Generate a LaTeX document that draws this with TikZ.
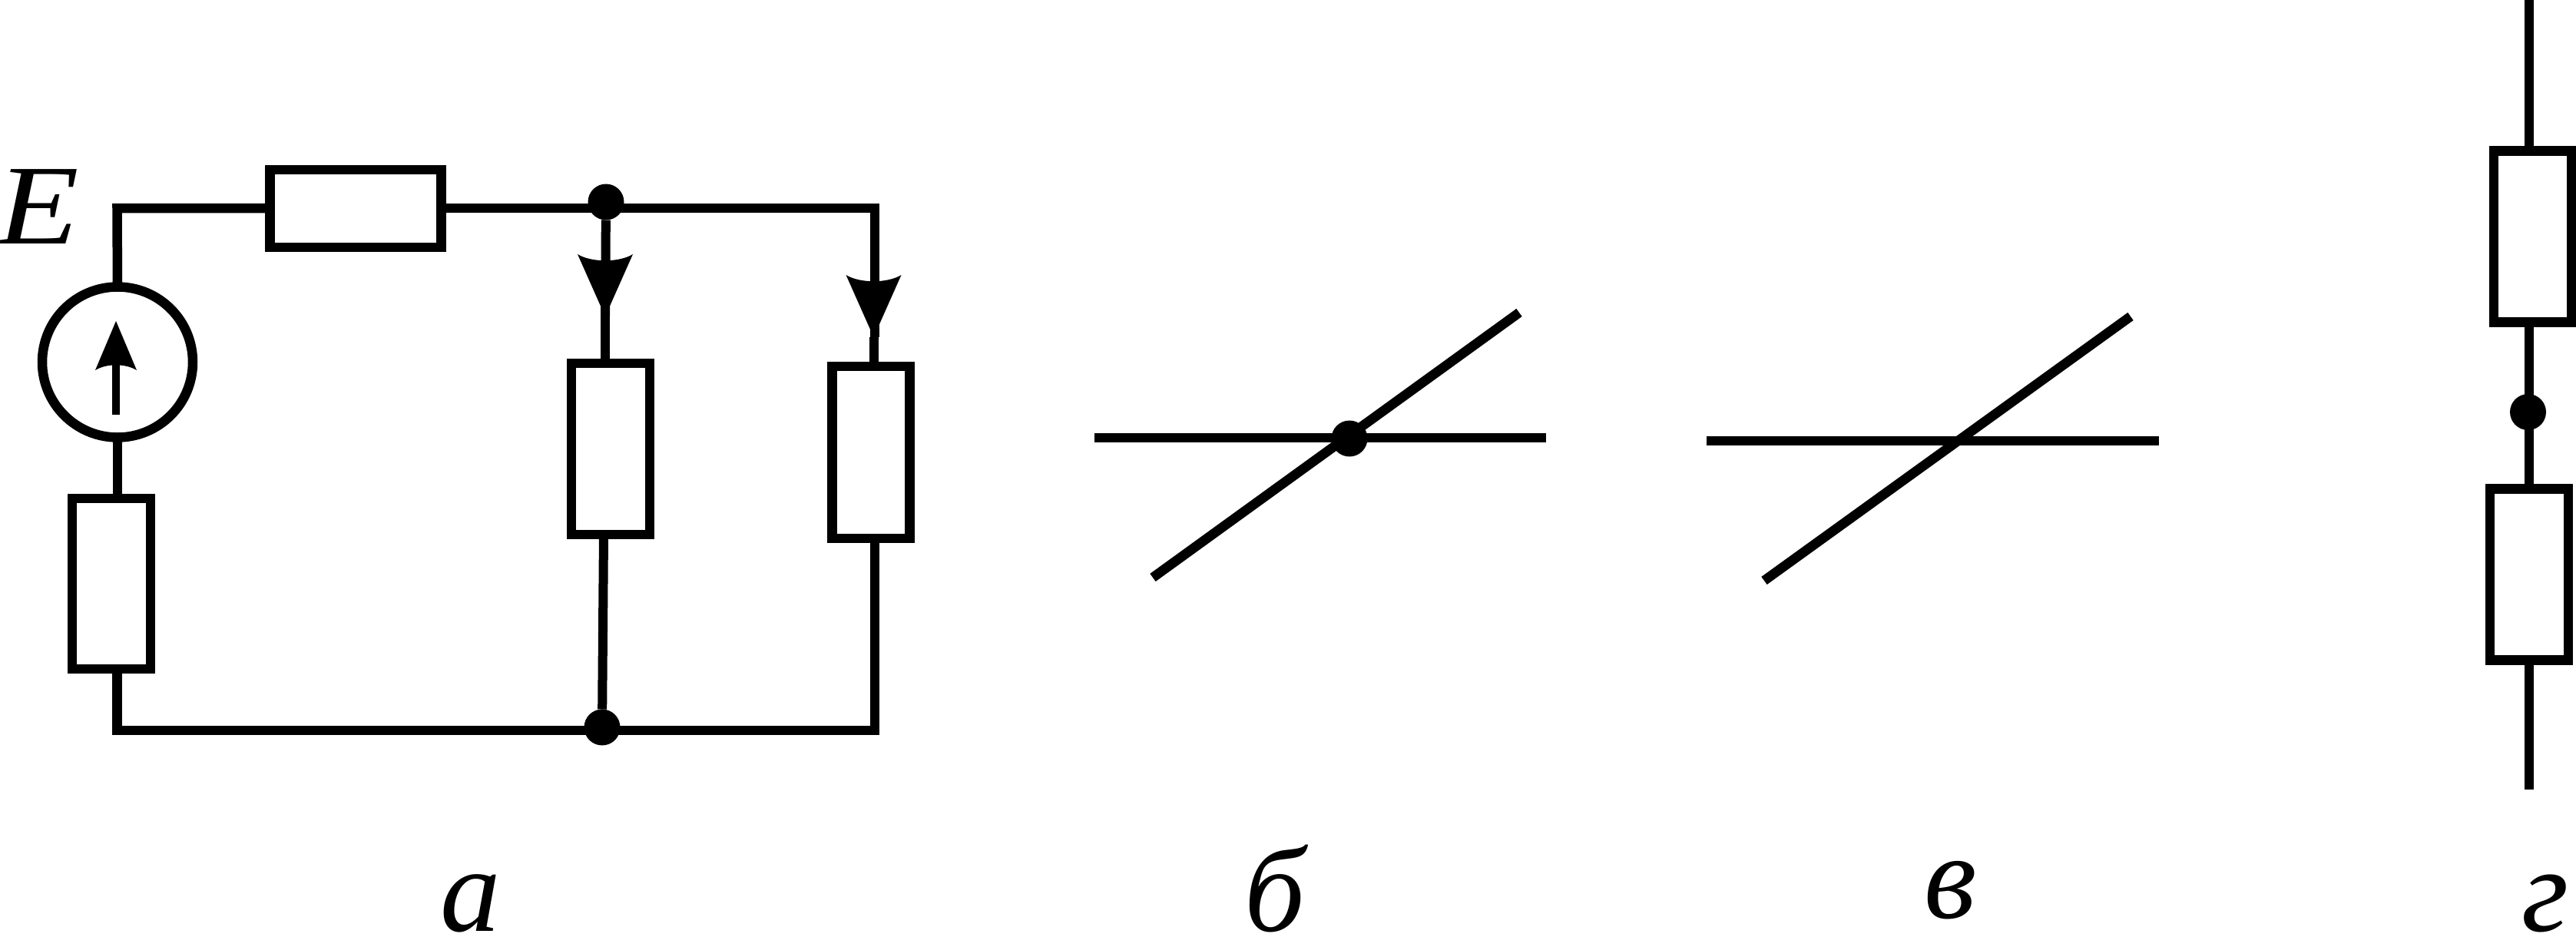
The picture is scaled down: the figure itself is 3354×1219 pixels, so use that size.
\documentclass[tikz,border=0pt]{standalone}
\usepackage{graphicx}
\usepackage{fontspec}
\setmainfont{Liberation Serif}
\begin{document}
\begin{tikzpicture}[x=1pt,y=-1pt,
  wire/.style={draw=black,line width=12.5pt,line cap=butt,line join=miter},
  thinwire/.style={draw=black,line width=12pt,line cap=butt},
  resistor/.style={draw=black,line width=12.5pt,rectangle,inner sep=0pt,outer sep=0pt,fill=white},
  source/.style={draw=black,line width=12.5pt,circle,inner sep=0pt,outer sep=0pt,minimum size=196pt,fill=white},
  junction/.style={fill=black,circle,inner sep=0pt,outer sep=0pt,minimum size=47pt},
  lab/.style={inner sep=0pt,outer sep=0pt,anchor=base west,font=\fontsize{157}{157}\selectfont\itshape},
  bighead/.pic={\fill[black] (0,0) -- (36,-81) .. controls (18,-70) and (-18,-70) .. (-36,-81) -- cycle;},
  smallhead/.pic={\fill[black] (0,0) -- (27,64) .. controls (12,55) and (-12,55) .. (-27,64) -- cycle;}
]
\path[use as bounding box,fill=white] (0,0) rectangle (3354,1219);

% a: circuit
\coordinate (tl) at (152.5,271);
\coordinate (tr) at (1139,271);
\coordinate (jt) at (789,271);
\coordinate (bl) at (152.5,951);
\coordinate (br) at (1139,951);
\coordinate (tipA) at (788,412);
\coordinate (tipB) at (1137.5,439);
\coordinate (tipE) at (151,418);
\coordinate (stemE) at (151,540);

\node[resistor,minimum width=223pt,minimum height=101pt] (r1) at (463,271.5) {};
\node[resistor,minimum width=102pt,minimum height=223pt] (r2) at (795,584.5) {};
\node[resistor,minimum width=101pt,minimum height=224pt] (r3) at (1134,589) {};
\node[resistor,minimum width=102pt,minimum height=222pt] (r4) at (145,760) {};
\node[source] (src) at (153,471.5) {};
\node[junction] (n1) at (789,263) {};
\node[junction] (n2) at (784,947) {};

\draw[wire] (src.north) -- (tl) -- (tl -| r1.west);
\draw[wire] (jt -| r1.east) -- (jt);
\draw[wire] (jt) -- (tr) -- (tipB -| tr);
\draw[thinwire] (tipB) -- (tipB |- r3.north);
\draw[thinwire] (n1) -- (tipA);
\draw[thinwire] (tipA) -- (tipA |- r2.north);
\draw[thinwire] (r2.south -| 786,0) -- (n2);
\draw[wire] (src.south) -- (src.south |- r4.north);
\draw[wire] (bl |- r4.south) -- (bl) -- (br) -- (br |- r3.south);
\draw[line width=10pt,draw=black] (stemE) -- (151,470);
\pic at (tipE) {smallhead};
\pic at (tipA) {bighead};
\pic at (tipB) {bighead};
\node[lab,font=\fontsize{148}{148}\selectfont\itshape] (E) at (-3,317) {\scalebox{1.18}[1]{E}};

% b
\coordinate (b1) at (1425,570);
\coordinate (b2) at (2013,570);
\coordinate (b3) at (1501,752);
\coordinate (b4) at (1978,407);
\node[junction] (n3) at (1757,571) {};
\draw[wire] (b1) -- (b2);
\draw[wire] (b3) -- (b4);

% v
\coordinate (c1) at (2222,574);
\coordinate (c2) at (2811,574);
\coordinate (c3) at (2297,756);
\coordinate (c4) at (2774,412);
\draw[wire] (c1) -- (c2);
\draw[wire] (c3) -- (c4);

% g
\coordinate (d1) at (3293,0);
\coordinate (d2) at (3293,1028);
\node[resistor,minimum width=101pt,minimum height=223pt] (r5) at (3297.5,308) {};
\node[resistor,minimum width=102pt,minimum height=223pt] (r6) at (3293,748) {};
\node[junction] (n4) at (3291.5,536.5) {};
\draw[wire] (d1) -- (d1 |- r5.north);
\draw[wire] (d1 |- r5.south) -- (d1 |- r6.north);
\draw[wire] (d1 |- r6.south) -- (d2);

% labels
\node[lab] (la) at (573,1212) {а};
\node[lab] (lb) at (1620,1212) {б};
\node[lab] (lv) at (2505,1195) {в};
\node[lab] (lg) at (3283,1212) {г};
\end{tikzpicture}
\end{document}
